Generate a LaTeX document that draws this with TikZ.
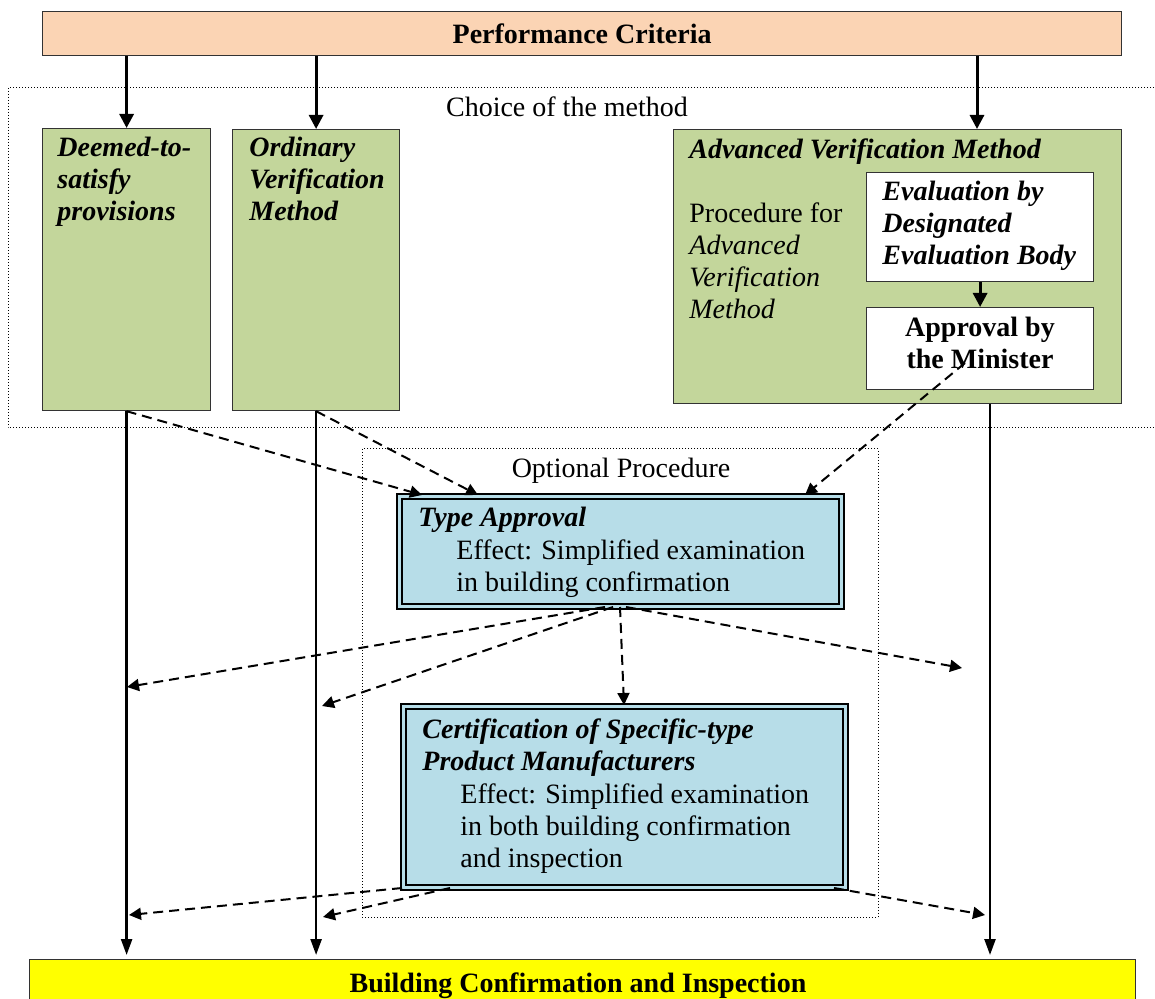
\documentclass[tikz,border=0pt]{standalone}
\usepackage{fontspec}
\setmainfont{Liberation Serif}
\usetikzlibrary{arrows.meta}
\newdimen\pxu \pxu=0.5pt
\definecolor{critfill}{RGB}{251,212,180}
\definecolor{methodfill}{RGB}{195,214,155}
\definecolor{optfill}{RGB}{183,221,232}
\definecolor{inspfill}{RGB}{255,255,0}
\begin{document}
\begin{tikzpicture}[x=0.5pt,y=-0.5pt,
		font=\fontsize{14}{16}\selectfont,
		every node/.style={inner sep=0pt},
		box/.style={draw=black!80,line width=0.6pt,anchor=north west},
		optbox/.style={box,draw=black,line width=1pt,double=optfill,double distance=1.5pt,fill=optfill},
		txt/.style={anchor=north west,align=left},
		bitxt/.style={txt,font=\fontsize{14}{16}\selectfont\bfseries\itshape},
		dotframe/.style={densely dotted,line width=0.5pt},
		solidarrow/.style={line width=1.5pt,-{Triangle[length=7pt,width=7pt]}},
		flowline/.style={line width=1.2pt,-{Triangle[length=8pt,width=5.5pt]}},
		optarrow/.style={line width=1pt,dash pattern=on 5pt off 3pt,-{Triangle[length=6pt,width=6pt]}}]
		\useasboundingbox (0,0) rectangle (1155,999);
		\clip (0,0) rectangle (1155,999);
		% frames
		\draw[dotframe] (1160,88) -| (8,428) -- (1160,428);
		\draw[dotframe] (362,449) rectangle (878,917);
		\node [anchor=base] (choice) at (567,117) {Choice of the method};
		\node [anchor=base] (optional) at (621,478) {Optional Procedure};
		% boxes
		\node [box,fill=critfill,minimum width=1079\pxu,minimum height=44\pxu,font=\fontsize{14}{16}\selectfont\bfseries] (crit) at (42,11) {Performance Criteria};
		\node [box,fill=methodfill,minimum width=168\pxu,minimum height=282\pxu] (deemed) at (42,128) {};
		\node [box,fill=methodfill,minimum width=167\pxu,minimum height=281\pxu] (ordinary) at (232,129) {};
		\node [box,fill=methodfill,minimum width=448\pxu,minimum height=274\pxu] (advanced) at (673,129) {};
		\node [box,fill=white,minimum width=227\pxu,minimum height=109\pxu] (evaluation) at (866,172) {};
		\node [box,fill=white,minimum width=227\pxu,minimum height=82\pxu] (approval) at (866,307) {};
		\node [optbox,minimum width=442\pxu,minimum height=110\pxu] (typeapp) at (398,495) {};
		\node [optbox,minimum width=442\pxu,minimum height=181\pxu] (cert) at (402,705) {};
		\node [box,fill=inspfill,minimum width=1106\pxu,minimum height=80\pxu] (build) at (29,959) {};
		% texts
		\node [bitxt] (deemedtxt) at (57,137) {Deemed-to-\\satisfy\\provisions};
		\node [bitxt] (ordinarytxt) at (249,137) {Ordinary\\Verification\\Method};
		\node [bitxt] (advancedtxt) at (689,138) {Advanced Verification Method};
		\node [txt] (proctxt) at (689,202) {Procedure for\\\textit{Advanced}\\\textit{Verification}\\\textit{Method}};
		\node [bitxt] (evaltxt) at (882,181) {Evaluation by\\Designated\\Evaluation Body};
		\node [anchor=north,align=center,font=\fontsize{14}{16}\selectfont\bfseries] (apprtxt) at (980,317) {Approval by\\the Minister};
		\node [bitxt] (typetxt) at (418,507) {Type Approval};
		\node [txt] (typeeff) at (456,539) {Effect: Simplified examination\\in building confirmation};
		\node [bitxt] (certtxt) at (422,718) {Certification of Specific-type\\Product Manufacturers};
		\node [txt] (certeff) at (460,783) {Effect: Simplified examination\\in both building confirmation\\and inspection};
		\node [anchor=base,font=\fontsize{14}{16}\selectfont\bfseries] (buildtxt) at (578,992) {Building Confirmation and Inspection};
		% free ends
		\coordinate (advtop) at (977,0);
		\coordinate (advline) at (990,0);
		\coordinate (minstart) at (965,363);
		\coordinate (tipa) at (127,687);
		\coordinate (tipb) at (322,706);
		\coordinate (tipc) at (962,668);
		\coordinate (tipd) at (129,915);
		\coordinate (tipe) at (323,917);
		\coordinate (tipf) at (985,915);
		% connectors
		\draw[solidarrow] (crit.south -| deemed.north) -- (deemed.north);
		\draw[solidarrow] (crit.south -| ordinary.north) -- (ordinary.north);
		\draw[solidarrow] (crit.south -| advtop) -- (advanced.north -| advtop);
		\draw[solidarrow] (evaluation.south) -- (approval.north);
		\draw[flowline,shorten >=2pt] (deemed.south) -- (deemed.south |- build.north);
		\draw[flowline,shorten >=2pt] (ordinary.south) -- (ordinary.south |- build.north);
		\draw[flowline,shorten >=2pt] (advanced.south -| advline) -- (build.north -| advline);
		\draw[optarrow] (deemed.south) -- ([xshift=12pt]typeapp.north west);
		\draw[optarrow] (ordinary.south) -- ([xshift=40pt]typeapp.north west);
		\draw[optarrow] (minstart) -- ([xshift=-18.5pt]typeapp.north east);
		\draw[optarrow] ([xshift=-7.5pt]typeapp.south) -- (tipa);
		\draw[optarrow] ([xshift=-3.5pt]typeapp.south) -- (tipb);
		\draw[optarrow] (typeapp.south) -- (cert.north);
		\draw[optarrow] ([xshift=3pt]typeapp.south) -- (tipc);
		\draw[optarrow] (cert.south west) -- (tipd);
		\draw[optarrow] ([xshift=24pt]cert.south west) -- (tipe);
		\draw[optarrow] ([xshift=-6pt]cert.south east) -- (tipf);
	\end{tikzpicture}
\end{document}
